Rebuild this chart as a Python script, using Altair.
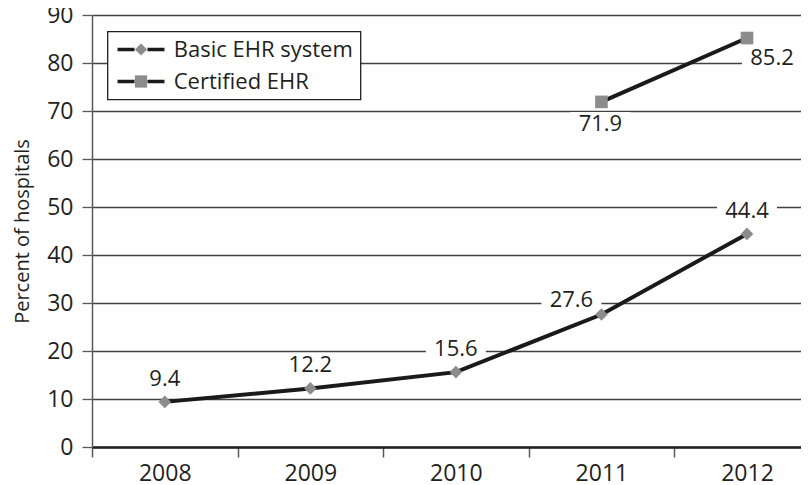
import altair as alt
import pandas as pd

# ---- data ----
years = [2008, 2009, 2010, 2011, 2012]
basic_values = [9.4, 12.2, 15.6, 27.6, 44.4]
basic_label_pos = ["above", "above", "above", "left", "above"]

cert_years = [2011, 2012]
cert_values = [71.9, 85.2]
cert_label_pos = ["below", "right"]

series_names = ["Basic EHR system", "Certified EHR"]
y_ticks = [0, 10, 20, 30, 40, 50, 60, 70, 80, 90]
x_bounds = [2007.5, 2008.5, 2009.5, 2010.5, 2011.5]

df = pd.DataFrame({
    "year": years + cert_years,
    "value": basic_values + cert_values,
    "series": [series_names[0]] * len(years) + [series_names[1]] * len(cert_years),
    "pos": basic_label_pos + cert_label_pos,
})

FONT = "Open Sans"
TXT = "#231f20"
FS_TICK = 23
FS_NUM = 22
FS_LEG = 22
FS_TITLE = 20

x_enc = alt.X(
    "year:Q",
    scale=alt.Scale(domain=[2007.5, 2012.371], nice=False, zero=False),
    axis=alt.Axis(
        values=x_bounds,
        labelExpr="toString(datum.value + 0.5)",
        labelOffset=72.75,
        labelFlush=False,
        labelOverlap=False,
        labelBound=False,
        labelPadding=5,
        tickSize=10,
        tickColor="#58595b",
        tickWidth=1.5,
        domainColor="#231f20",
        domainWidth=2.5,
        grid=False,
        title=None,
    ),
)
y_enc = alt.Y(
    "value:Q",
    scale=alt.Scale(domain=[0, 90], nice=False, zero=True),
    axis=alt.Axis(
        values=y_ticks,
        grid=True,
        gridColor="#414042",
        gridWidth=1.3,
        tickSize=10,
        tickColor="#58595b",
        tickWidth=1.3,
        domainColor="#58595b",
        domainWidth=1.5,
        labelPadding=9,
        title="Percent of hospitals",
        titlePadding=14,
        titleFontSize=FS_TITLE,
    ),
)

base = alt.Chart(df)

legend_common = dict(
    orient="none", legendX=15.5, legendY=16.5, title=None,
    symbolOffset=15.5,
    labelFont=FONT, labelFontSize=FS_LEG, labelColor=TXT, labelOffset=21.75,
    labelLimit=400, rowPadding=10, padding=7,
)
legend_line = alt.Legend(
    symbolType="M-2.765,0H-0.765M0.765,0H2.765", symbolSize=289, symbolStrokeWidth=3.5,
    zindex=2, **legend_common,
)
legend_shape = alt.Legend(
    symbolSize=150, symbolFillColor="#8c8c8c", symbolStrokeWidth=0,
    labelOpacity=0, zindex=1, fillColor="white", strokeColor="#231f20",
    **legend_common,
)

lines = base.mark_line(strokeWidth=4).encode(
    x=x_enc, y=y_enc,
    color=alt.Color("series:N",
                    scale=alt.Scale(domain=series_names, range=["#1a1a1a", "#1a1a1a"]),
                    legend=legend_line),
)
points = base.mark_point(filled=True, color="#8c8c8c", opacity=1, size=160, strokeWidth=0).encode(
    x=x_enc, y=y_enc,
    shape=alt.Shape("series:N", scale=alt.Scale(range=["diamond", "square"]), legend=legend_shape),
)

placements = {
    "above": (0, -23),
    "left": (-30, -15),
    "below": (-1, 22),
    "right": (25, 20),
}
box_path = "M-30,-12H30V12H-30Z"

boxes = []
texts = []
for key, (dx, dy) in placements.items():
    sub = base.transform_filter(alt.datum.pos == key)
    boxes.append(sub.mark_point(shape=box_path, size=4, filled=True, color="white",
                                opacity=1, strokeWidth=0, xOffset=dx, yOffset=dy)
                 .encode(x=x_enc, y=y_enc))
    texts.append(sub.mark_text(font=FONT, fontSize=FS_NUM, color=TXT, dx=dx, dy=dy,
                               baseline="middle", align="center")
                 .encode(x=x_enc, y=y_enc, text=alt.Text("value:Q", format=".1f")))

chart = alt.layer(*boxes, lines, points, *texts).properties(
    width=709, height=432,
    autosize=alt.AutoSizeParams(type="none"),
    padding={"left": 84, "top": 7, "right": 0, "bottom": 44},
).configure_view(stroke="transparent").configure_axis(
    labelFont=FONT, labelFontSize=FS_TICK, labelColor=TXT,
    titleFont=FONT, titleFontSize=FS_TITLE, titleFontWeight="normal", titleColor=TXT,
).configure_legend(strokeWidth=1.3)

chart.save("out.html", embed_options={"renderer": "svg", "actions": False})
